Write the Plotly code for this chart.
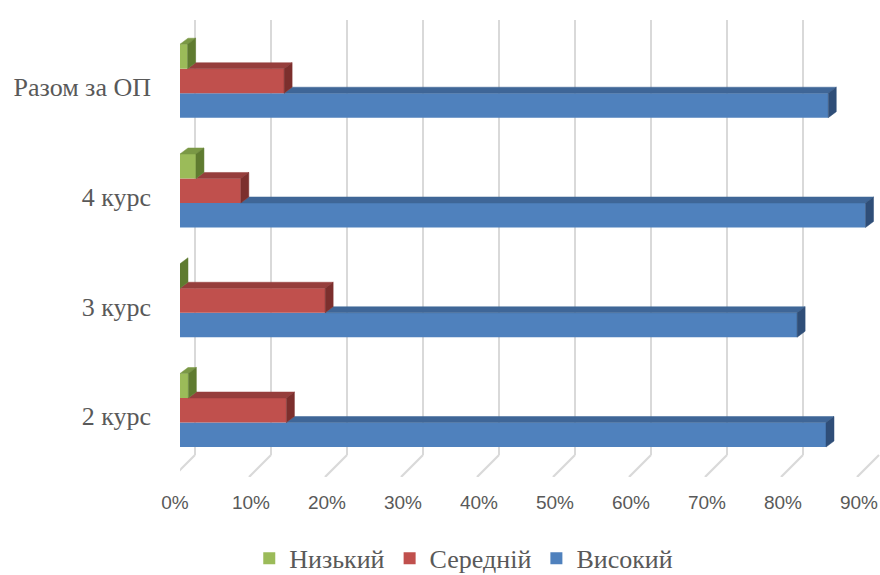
import plotly.graph_objects as go

# ---------------- data ----------------
CATS = ["2 курс", "3 курс", "4 курс", "Разом за ОП"]
NIZ = [1.1, 0.0, 2.1, 1.0]      # Низький
SER = [14.0, 19.1, 8.0, 13.7]   # Середній
VYS = [85.0, 81.2, 90.2, 85.3]  # Високий
TICKS = [0, 10, 20, 30, 40, 50, 60, 70, 80, 90]
TICK_TEXT = [f"{t}%" for t in TICKS]

# ---------------- geometry / style ----------------
W, H = 880, 575
L, R, T, B = 180, 0, 20, 98
plot_w = W - L - R
plot_h = H - T - B
PX_PER_PCT = 7.6
PX_PER_CAT = 109.77
X_MAX = plot_w / PX_PER_PCT
Y_MIN = -0.608
Y_MAX = Y_MIN + plot_h / PX_PER_CAT
BAR_H = 24.5 / PX_PER_CAT
DX = 8 / PX_PER_PCT
DY = 6 / PX_PER_CAT
BACK_OFF = 15 / PX_PER_PCT
FLOOR_DX = 22 / PX_PER_PCT
FLOOR_PX = 22
FLOOR_BACK = Y_MIN + FLOOR_PX / PX_PER_CAT
TEXT = "#595959"
GRID = "#D9D9D9"

# bottom -> top inside each group
SERIES = [
    ("Високий", VYS, "#4F81BD", "#3F6697", "#2F4E78", 3),
    ("Середній", SER, "#C0504D", "#963E3C", "#7C2F2D", 2),
    ("Низький", NIZ, "#9BBB59", "#7A9845", "#5F7B30", 1),
]

ypos = list(range(len(CATS)))
fig = go.Figure()

# dummy trace to create the back-wall grid subplot
fig.add_trace(go.Scatter(x=[None], y=[None], xaxis="x", yaxis="y",
                         showlegend=False, hoverinfo="skip"))

# front faces (real bars)
for k, (name, vals, front, top, side, rank) in enumerate(SERIES):
    fig.add_trace(go.Bar(
        x=vals, y=ypos, orientation="h", name=name,
        width=BAR_H, offset=-1.5 * BAR_H + k * BAR_H,
        marker=dict(color=front, line=dict(width=0)),
        xaxis="x2", yaxis="y2", legendrank=rank,
    ))

# 3D top and side faces derived from the same values
for k, (name, vals, front, top, side, rank) in enumerate(SERIES):
    tx, ty, sx, sy = [], [], [], []
    for i, v in enumerate(vals):
        yb = i - 1.5 * BAR_H + k * BAR_H
        yt = yb + BAR_H
        sx += [v, v, v + DX, v + DX, v, None]
        sy += [yb, yt, yt + DY, yb + DY, yb, None]
        a = 0.0 if k == len(SERIES) - 1 else SERIES[k + 1][1][i]
        if v > a:
            tx += [a, v, v + DX, a + DX, a, None]
            ty += [yt, yt, yt + DY, yt + DY, yt, None]
    for xs, ys, col in ((tx, ty, top), (sx, sy, side)):
        fig.add_trace(go.Scatter(
            x=xs, y=ys, mode="lines", fill="toself", fillcolor=col,
            line=dict(color=col, width=0.5), xaxis="x2", yaxis="y2",
            showlegend=False, hoverinfo="skip",
        ))

# floor diagonals of the grid
fx, fy = [], []
for t in TICKS:
    fx += [t + BACK_OFF, t + BACK_OFF - FLOOR_DX, None]
    fy += [FLOOR_BACK, Y_MIN, None]
fig.add_trace(go.Scatter(x=fx, y=fy, mode="lines", line=dict(color=GRID, width=2.2),
                         xaxis="x2", yaxis="y2", showlegend=False, hoverinfo="skip",
                         cliponaxis=False))

fig.update_layout(
    width=W, height=H,
    margin=dict(l=L, r=R, t=T, b=B),
    paper_bgcolor="white", plot_bgcolor="rgba(0,0,0,0)",
    barmode="overlay",
    showlegend=True,
    xaxis=dict(domain=[0, 1], anchor="y", range=[-BACK_OFF, X_MAX - BACK_OFF],
               tickvals=TICKS, showticklabels=False, showgrid=True,
               gridcolor=GRID, gridwidth=2.2, zeroline=False, showline=False, ticks=""),
    yaxis=dict(domain=[FLOOR_PX / plot_h, 1], anchor="x", range=[0, 1], visible=False),
    xaxis2=dict(domain=[0, 1], anchor="y2", range=[0, X_MAX],
                tickvals=TICKS, ticktext=TICK_TEXT, showgrid=False, zeroline=False,
                showline=False, ticks="", ticklabelstandoff=12, ticklabelshift=-5,
                tickfont=dict(family="Liberation Sans", size=19, color=TEXT)),
    yaxis2=dict(domain=[0, 1], anchor="x2", range=[Y_MIN, Y_MAX],
                tickvals=[p - 0.055 for p in ypos], ticktext=CATS,
                showgrid=False, zeroline=False, showline=False, ticks="",
                ticklabelstandoff=28,
                tickfont=dict(family="Liberation Serif", size=26, color=TEXT)),
    legend=dict(orientation="h", xref="container", yref="container",
                x=0.527, xanchor="center", y=0.029, yanchor="middle",
                font=dict(family="Liberation Serif", size=26, color=TEXT),
                bgcolor="rgba(0,0,0,0)"),
)

fig.write_html("out.html", config={"displayModeBar": False},
               post_script="document.body.style.margin='0px';document.body.style.overflow='hidden';")
